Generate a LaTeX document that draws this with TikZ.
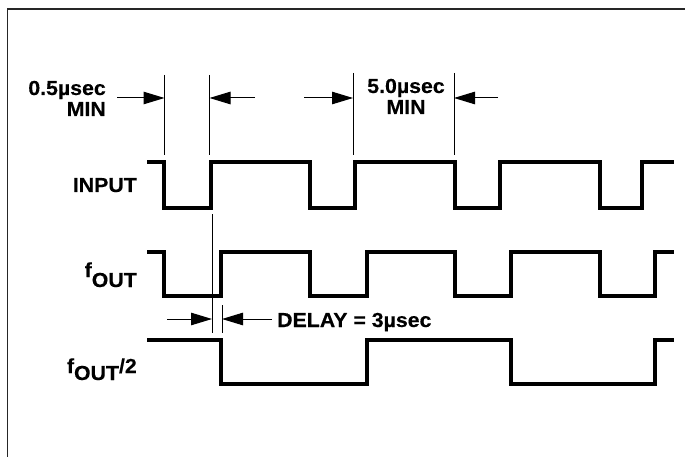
\documentclass[tikz,border=0pt]{standalone}
\usepackage{fontspec}
\newfontfamily\lab[FakeStretch=1.05,FakeBold=0.3]{Liberation Sans}
\usetikzlibrary{arrows.meta}
\tikzset{
  wave/.style={line width=4pt, line join=miter, line cap=butt},
  dimline/.style={line width=1pt},
  dimarrow/.style={line width=1pt, -{Triangle[length=21pt,width=12.5pt]}},
  lbl/.style={inner sep=0pt, font=\lab\bfseries\fontsize{20.3}{22}\selectfont},
  frame/.style={line width=1.5pt, draw=black!85}
}
\begin{document}
\begin{tikzpicture}[x=1pt,y=-1pt]
\useasboundingbox (0,0) rectangle (685,457);
% frame
\coordinate (fa) at (7.5,457);
\coordinate (fb) at (7.5,9);
\coordinate (fc) at (685,9);
\draw[frame] (fa) -- (fb) -- (fc);

% waveforms
\draw[wave] (147,162) -- (164,162) -- (164,208) -- (210.5,208) -- (210.5,162)
  -- (310,162) -- (310,208) -- (355,208) -- (355,162)
  -- (455,162) -- (455,208) -- (500,208) -- (500,162)
  -- (600,162) -- (600,208) -- (642,208) -- (642,162) -- (674,162);
\draw[wave] (147,252) -- (164,252) -- (164,296) -- (221,296) -- (221,252)
  -- (310,252) -- (310,296) -- (367,296) -- (367,252)
  -- (455,252) -- (455,296) -- (511,296) -- (511,252)
  -- (600,252) -- (600,296) -- (655,296) -- (655,252) -- (674,252);
\draw[wave] (147,340) -- (221,340) -- (221,384) -- (367,384) -- (367,340)
  -- (511,340) -- (511,384) -- (655,384) -- (655,340) -- (674,340);

% labels
\node[lbl, anchor=base east] (in) at (137,192) {INPUT};
\node[lbl, anchor=base east] (fo) at (137,277) {f\raisebox{-10pt}{OUT}};
\node[lbl, anchor=base east] (fo2) at (137,373) {f\raisebox{-7pt}{OUT}/2};
\node[lbl, anchor=base east] (t1) at (106,95) {0.5µsec};
\node[lbl, anchor=base east] (t2) at (106,116) {MIN};
\node[lbl, anchor=base] (t3) at (406,93) {5.0µsec};
\node[lbl, anchor=base] (t4) at (406,114) {MIN};
\node[lbl, anchor=base west] (t5) at (277,327) {DELAY = 3µsec};

% 0.5usec dimension
\coordinate (a1t) at (164.5,75);  \coordinate (a1b) at (164.5,155);
\coordinate (a2t) at (209.5,75);  \coordinate (a2b) at (209.5,155);
\draw[dimline] (a1t) -- (a1b);
\draw[dimline] (a2t) -- (a2b);
\coordinate (a1s) at (117,98); \coordinate (a1e) at (164.5,98);
\coordinate (a2s) at (255,98); \coordinate (a2e) at (209.5,98);
\draw[dimarrow] (a1s) -- (a1e);
\draw[dimarrow] (a2s) -- (a2e);

% 5.0usec dimension
\coordinate (b1t) at (353,73);  \coordinate (b1b) at (353,155);
\coordinate (b2t) at (454,73);  \coordinate (b2b) at (454,155);
\draw[dimline] (b1t) -- (b1b);
\draw[dimline] (b2t) -- (b2b);
\coordinate (b1s) at (304,98); \coordinate (b1e) at (353,98);
\coordinate (b2s) at (498,98); \coordinate (b2e) at (454,98);
\draw[dimarrow] (b1s) -- (b1e);
\draw[dimarrow] (b2s) -- (b2e);

% delay dimension
\coordinate (c1t) at (212,214);  \coordinate (c1b) at (212,333);
\coordinate (c2t) at (222,305);  \coordinate (c2b) at (222,333);
\draw[dimline] (c1t) -- (c1b);
\draw[dimline] (c2t) -- (c2b);
\coordinate (c1s) at (167,319); \coordinate (c1e) at (212,319);
\coordinate (c2s) at (272,319); \coordinate (c2e) at (222,319);
\draw[dimarrow] (c1s) -- (c1e);
\draw[dimarrow] (c2s) -- (c2e);
\end{tikzpicture}
\end{document}
